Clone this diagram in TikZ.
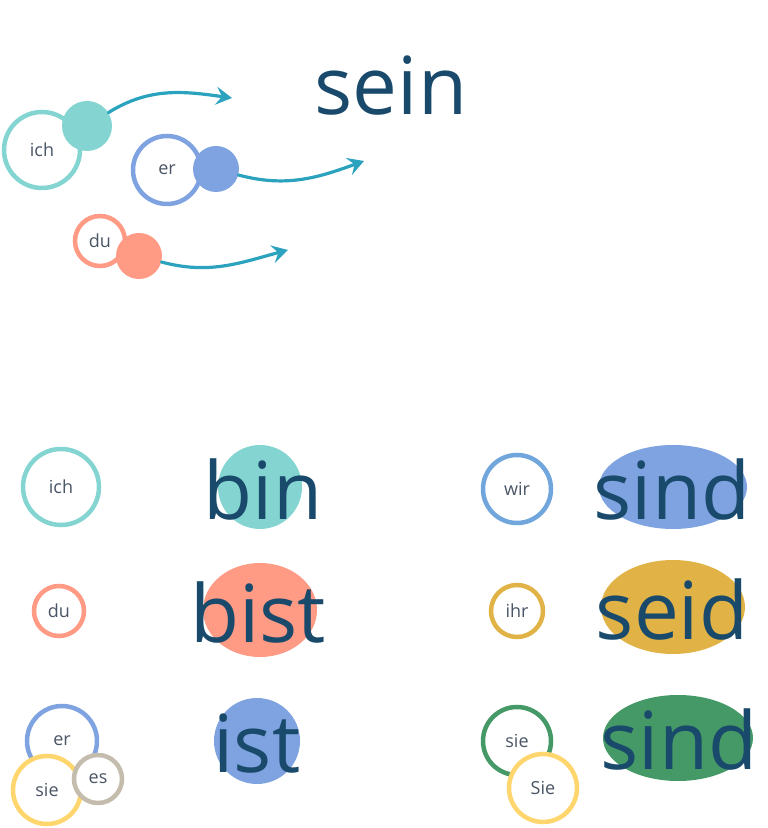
\documentclass[tikz,border=0pt]{standalone}
\usepackage{fontspec}
\setmainfont{Open Sans}
\usepackage{tikz}
\usetikzlibrary{arrows.meta,shapes.geometric}
\definecolor{ichcol}{HTML}{84D5D2}
\definecolor{ercol}{HTML}{7EA3E0}
\definecolor{ducol}{HTML}{FF9A85}
\definecolor{siecol}{HTML}{FFD66E}
\definecolor{escol}{HTML}{C4BDAE}
\definecolor{wircol}{HTML}{70A6DB}
\definecolor{ihrcol}{HTML}{E1B347}
\definecolor{sieplcol}{HTML}{459967}
\definecolor{arrowcol}{HTML}{2BA3BF}
\definecolor{wordcol}{HTML}{1A4A6B}
\definecolor{labelcol}{HTML}{4A5566}
\tikzset{
  pron-ring/.style={circle, draw, fill=white, line width=4.5pt, inner sep=0pt,
    text=labelcol, font=\fontsize{18}{21}\selectfont},
  pron-dot/.style={circle, inner sep=0pt},
  verb-blob/.style={ellipse, inner sep=0pt},
  verb-word/.style={anchor=base, text=wordcol, inner sep=0pt,
    font=\fontsize{80}{96}\selectfont},
  verb-arrow/.style={arrowcol, line width=3.2pt, line cap=round,
    -{Stealth[length=16pt, width=18pt, inset=6pt]}}
}

\begin{document}
\begin{tikzpicture}[x=1pt, y=1pt]
  \useasboundingbox (0,0) rectangle (768,828);

  % infinitive
  \node[verb-word] (sein) at (391,713) {sein};

  % ich with its dot and arrow
  \node[pron-ring, draw=ichcol, minimum size=76pt] (ichtop) at (42,678) {ich};
  \node[pron-dot, fill=ichcol, minimum size=50pt] (ichdot) at (87,702) {};
  \coordinate (ichend) at (232,730);
  \draw[verb-arrow] (ichdot) to[out=32, in=172] (ichend);

  % er with its dot and arrow
  \node[pron-ring, draw=ercol, minimum size=68pt] (ertop) at (167,658) {er};
  \node[pron-dot, fill=ercol, minimum size=46pt] (erdot) at (216,659) {};
  \coordinate (erend) at (364,667);
  \draw[verb-arrow] (erdot) to[out=-15, in=200] (erend);

  % du with its dot and arrow
  \node[pron-ring, draw=ducol, minimum size=50pt] (dutop) at (100,587) {du};
  \node[pron-dot, fill=ducol, minimum size=46pt] (dudot) at (139,572) {};
  \coordinate (duend) at (288,578);
  \draw[verb-arrow] (dudot) to[out=-15, in=195] (duend);

  % singular column
  \node[pron-ring, draw=ichcol, minimum size=76pt] (ich) at (61,341) {ich};
  \node[verb-blob, fill=ichcol, minimum width=84pt, minimum height=84pt] (binblob) at (260,341) {};
  \node[verb-word] (bin) at (263,308) {bin};

  \node[pron-ring, draw=ducol, minimum size=50pt] (du) at (59,217) {du};
  \node[verb-blob, fill=ducol, minimum width=114pt, minimum height=94pt] (bistblob) at (260,218) {};
  \node[verb-word] (bist) at (258,185) {bist};

  \node[pron-ring, draw=ercol, minimum size=70pt] (er) at (62,87) {er};
  \node[pron-ring, draw=siecol, minimum size=68pt] (sie) at (47,38) {sie};
  \node[pron-ring, draw=escol, minimum size=48pt] (es) at (98,49) {es};
  \node[verb-blob, fill=ercol, minimum width=86pt, minimum height=86pt] (istblob) at (257,87) {};
  \node[verb-word] (ist) at (257,56) {ist};

  % plural column
  \node[pron-ring, draw=wircol, minimum size=68pt] (wir) at (517,339) {wir};
  \node[verb-blob, fill=ercol, minimum width=148pt, minimum height=84pt] (sindblob) at (673,341) {};
  \node[verb-word] (sind) at (672,308) {sind};

  \node[pron-ring, draw=ihrcol, minimum size=52pt] (ihr) at (517,217) {ihr};
  \node[verb-blob, fill=ihrcol, minimum width=144pt, minimum height=94pt] (seidblob) at (673,221) {};
  \node[verb-word] (seid) at (672,188) {seid};

  \node[pron-ring, draw=sieplcol, minimum size=68pt] (siepl) at (517,87) {sie};
  \node[pron-ring, draw=siecol, minimum size=68pt] (Sie) at (543,40) {Sie};
  \node[verb-blob, fill=sieplcol, minimum width=150pt, minimum height=86pt] (sindpblob) at (678,90) {};
  \node[verb-word] (sindp) at (679,58) {sind};
\end{tikzpicture}
\end{document}
